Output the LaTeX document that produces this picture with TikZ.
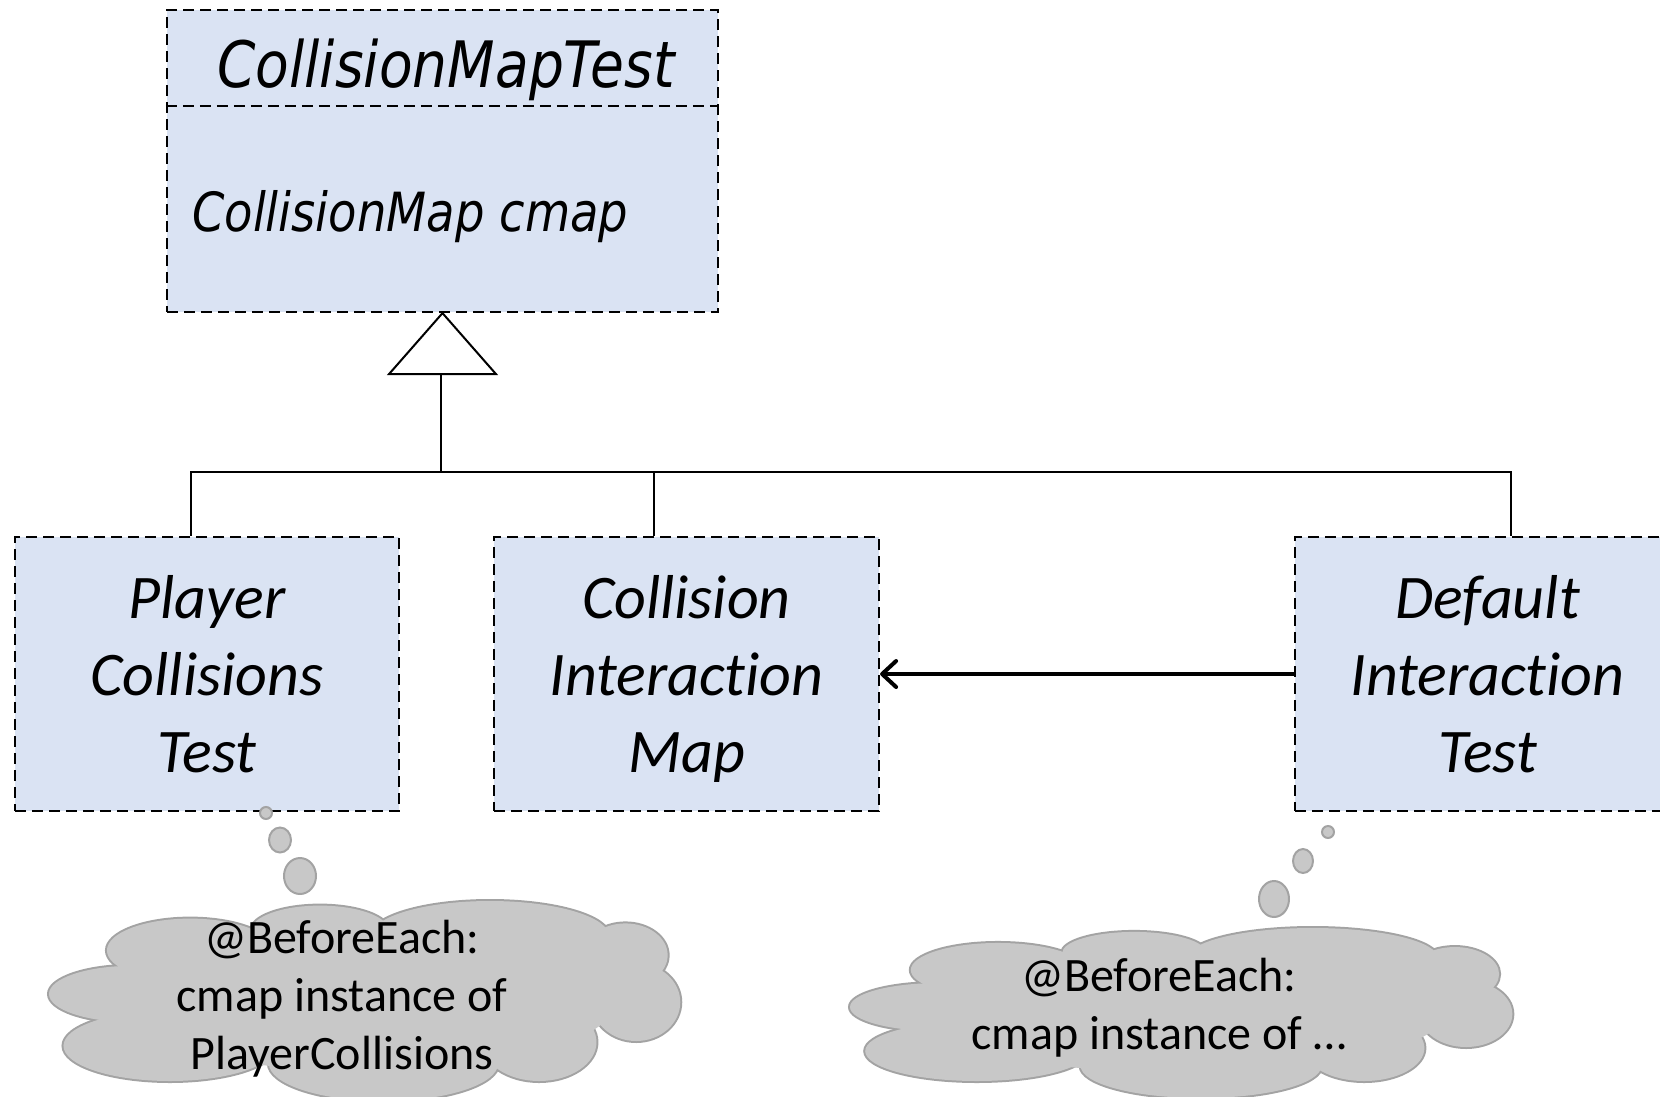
\documentclass[tikz,border=0pt]{standalone}
\usepackage{fontspec}
\setmainfont{Carlito}[Ligatures=NoCommon]
\newfontfamily\classfont[FakeStretch=0.86]{DejaVu Sans}
\usetikzlibrary{arrows.meta,shapes.geometric}

\definecolor{boxfill}{HTML}{DAE3F3}
\definecolor{thinkfill}{HTML}{C8C8C8}
\definecolor{thinkedge}{HTML}{A3A3A3}

\tikzset{
  umlbox/.style={draw=black, fill=boxfill, line width=2.2pt,
    dash pattern=on 11pt off 6pt, inner sep=0pt, align=center, text depth=0pt,
    font=\itshape\fontsize{62}{77}\selectfont},
  divider/.style={draw=black, line width=2.2pt, dash pattern=on 11pt off 6pt},
  conn/.style={draw=black, line width=2pt},
  assoc/.style={draw=black, line width=4pt,
    -{Straight Barb[length=14pt,width=26pt,line cap=round,line join=round]}},
  bubble/.style={ellipse, draw=thinkedge, fill=thinkfill, line width=2pt, inner sep=0pt},
  thoughttext/.style={align=center, font=\fontsize{48}{58}\selectfont}
}

% lobes of a thought cloud in a unit box: centre x / centre y / radius x / radius y
\def\cloudlobes{0.133/0.465/0.133/0.141, 0.192/0.724/0.169/0.176,
  0.224/0.247/0.132/0.159, 0.430/0.147/0.109/0.124, 0.700/0.176/0.189/0.176,
  0.915/0.271/0.067/0.159, 0.932/0.506/0.070/0.194, 0.778/0.706/0.091/0.194,
  0.531/0.812/0.182/0.188}

% \thoughtcloud{left}{top}{width}{height}
\newcommand\thoughtcloud[4]{%
  \begin{scope}[shift={(#1,#2)}, x=#3pt, y=-#4pt]
    \foreach \cx/\cy/\rx/\ry in \cloudlobes
      \draw[draw=thinkedge, fill=thinkfill, line width=4pt]
        (\cx,\cy) ellipse [x radius=\rx, y radius=\ry];
    \foreach \cx/\cy/\rx/\ry in \cloudlobes
      \fill[thinkfill] (\cx,\cy) ellipse [x radius=\rx, y radius=\ry];
    \fill[thinkfill] (0.5,0.5) ellipse [x radius=0.4, y radius=0.35];
    \fill[thinkfill] (0.82,0.42) ellipse [x radius=0.12, y radius=0.2];
    \fill[thinkfill] (0.2,0.5) ellipse [x radius=0.12, y radius=0.25];
  \end{scope}}

\begin{document}
\begin{tikzpicture}[x=1pt, y=-1pt]
  \useasboundingbox (0,0) rectangle (1660,1096);

  % abstract test class with its field compartment
  \node[umlbox, minimum width=551pt, minimum height=302pt] (base) at (442.5,161) {};
  \coordinate (div) at (0,106);
  \draw[divider] (base.west |- div) -- (base.east |- div);
  \node[anchor=base, inner sep=0pt, font=\classfont\itshape\fontsize{64}{72}\selectfont]
    (title) at (446,87) {CollisionMapTest};
  \node[anchor=base west, inner sep=0pt, font=\classfont\itshape\fontsize{54}{62}\selectfont]
    (attr) at (192,231) {CollisionMap cmap};

  % concrete test classes
  \node[umlbox, minimum width=384pt, minimum height=274pt] (b1) at (207,674)
    {Player\\Collisions\\Test};
  \node[umlbox, minimum width=385pt, minimum height=274pt] (b2) at (686.5,674)
    {Collision\\Interaction\\Map};
  \node[umlbox, minimum width=385pt, minimum height=274pt] (b3) at (1487.5,674)
    {Default\\Interaction\\Test};

  % generalization tree
  \coordinate (tribase) at ([yshift=-61pt]base.south);
  \coordinate (bar) at (0,472);
  \draw[conn, fill=white] (base.south) -- ([xshift=53.5pt]tribase)
    -- ([xshift=-53.5pt]tribase) -- cycle;
  \draw[conn] ([xshift=-2pt]tribase) -- ([xshift=-2pt]tribase |- bar);
  \draw[conn] ([xshift=-16pt]b1.north) -- ([xshift=-16pt]b1.north |- bar)
    -- ([xshift=23.5pt]b3.north |- bar) -- ([xshift=23.5pt]b3.north);
  \draw[conn] ([xshift=-32.5pt]b2.north) -- ([xshift=-32.5pt]b2.north |- bar);

  % association
  \draw[assoc] (b3.west) -- (b2.east);

  % thought bubbles and clouds
  \node[bubble, minimum width=12pt, minimum height=12pt] (p1) at (266,813) {};
  \node[bubble, minimum width=22pt, minimum height=25pt] (p2) at (280,840) {};
  \node[bubble, minimum width=32pt, minimum height=36pt] (p3) at (300,876) {};
  \thoughtcloud{49}{901}{630}{200}
  \node[thoughttext] (t1) at (342,999)
    {@BeforeEach:\\cmap instance of\\PlayerCollisions};

  \node[bubble, minimum width=12pt, minimum height=12pt] (q1) at (1328,832) {};
  \node[bubble, minimum width=20pt, minimum height=24pt] (q2) at (1303,861) {};
  \node[bubble, minimum width=30pt, minimum height=36pt] (q3) at (1274,899) {};
  \thoughtcloud{850}{928}{661}{170}
  \node[thoughttext] (t2) at (1159,1008)
    {@BeforeEach:\\cmap instance of …};
\end{tikzpicture}
\end{document}
